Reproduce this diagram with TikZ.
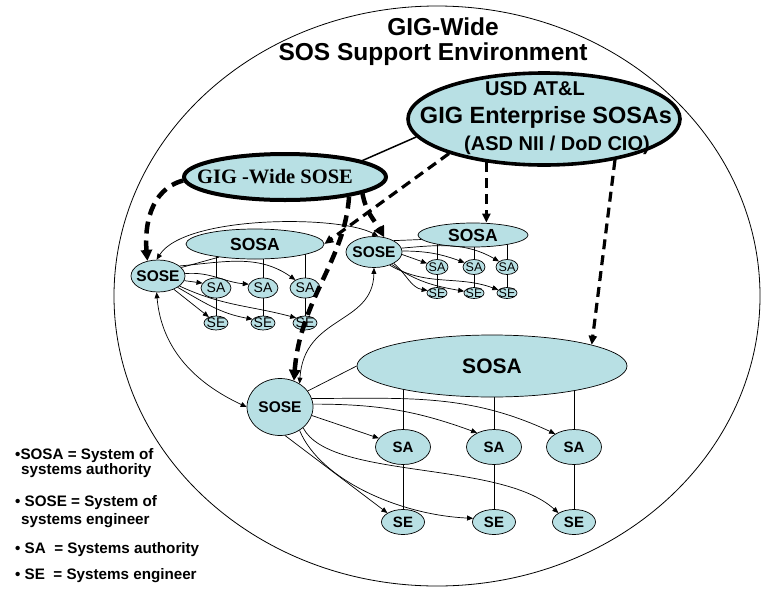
\documentclass[tikz,border=0pt]{standalone}
\usepackage{fontspec}
\setmainfont{Liberation Sans}
\newfontfamily\timesbold{Liberation Serif}
\usepackage{tikz}
\usetikzlibrary{positioning,arrows.meta,shapes.geometric,backgrounds}

\definecolor{sosfill}{RGB}{184,224,228}

\tikzset{
  blob/.style={ellipse, draw, fill=sosfill, inner sep=0pt, line width=0.7pt},
  boldblob/.style={blob, line width=3.6pt},
  link/.style={line width=0.7pt},
  flow/.style={link, -{Triangle[length=6pt,width=5pt]}},
  twoway/.style={link, {Triangle[length=6pt,width=5pt]}-{Triangle[length=6pt,width=5pt]}},
  heavydash/.style={line width=4.5pt, dash pattern=on 12pt off 7pt, -{Triangle[length=11pt,width=11pt]}},
  meddash/.style={line width=3.2pt, dash pattern=on 10pt off 6pt, -{Triangle[length=9pt,width=8pt]}},
  sosalbl/.style={font=\bfseries\fontsize{17.5}{18}\selectfont},
  bigsosalbl/.style={font=\bfseries\fontsize{21}{22}\selectfont},
  soselbl/.style={font=\bfseries\fontsize{15.5}{16}\selectfont},
  tinylbl/.style={font=\fontsize{14}{14}\selectfont},
  minilbl/.style={font=\fontsize{12.5}{13}\selectfont},
  unitlbl/.style={font=\bfseries\fontsize{15}{15}\selectfont},
  keytxt/.style={anchor=base west, inner sep=0pt, font=\bfseries\fontsize{15.2}{17}\selectfont},
}

\begin{document}
\begin{tikzpicture}[x=1pt, y=-1pt]
    \useasboundingbox (0,0) rectangle (761,590);

    % Environment
    \node[ellipse, draw, line width=0.8pt, inner sep=0pt, minimum width=646pt, minimum height=580pt] (env) at (437,296) {};
    \node[anchor=base, font=\bfseries\fontsize{24.5}{26}\selectfont] (title1) at (443,35) {GIG-Wide};
    \node[anchor=base, font=\bfseries\fontsize{24.5}{26}\selectfont] (title2) at (433,60) {SOS Support Environment};

    % Enterprise level
    \node[boldblob, minimum width=272pt, minimum height=92pt] (usd) at (544,119) {};
    \node[anchor=base, font=\bfseries\fontsize{20}{22}\selectfont] (usd1) at (535,95) {USD AT\&L};
    \node[anchor=base, font=\bfseries\fontsize{23.5}{25}\selectfont] (usd2) at (546,123) {GIG Enterprise SOSAs};
    \node[anchor=base, font=\bfseries\fontsize{20}{22}\selectfont] (usd3) at (557,150) {(ASD NII / DoD CIO)};

    \node[boldblob, line width=4pt, minimum width=202pt, minimum height=46pt] (gigsose) at (285,177) {};
    \node[anchor=base, font=\timesbold\bfseries\fontsize{20.5}{22}\selectfont] (gigtxt) at (275,183) {GIG -Wide SOSE};

    % Upper left group
    \node[blob, minimum width=138pt, minimum height=30pt, label={[sosalbl]center:SOSA}] (sosa1) at (255,244) {};
    \node[blob, minimum width=54pt, minimum height=32pt, label={[soselbl]center:SOSE}] (sose1) at (158,276) {};
    \foreach \i/\x in {1/216,2/263,3/305} {
        \node[blob, minimum width=30pt, minimum height=20pt, label={[tinylbl]center:SA}] (sa1\i) at (\x,288) {};
        \node[blob, minimum width=24pt, minimum height=14pt, label={[tinylbl]center:SE}] (se1\i) at (\x,323) {};
    }

    % Upper right group
    \node[blob, minimum width=110pt, minimum height=24pt, label={[sosalbl]center:SOSA}] (sosa2) at (473,235) {};
    \node[blob, minimum width=56pt, minimum height=31pt, label={[soselbl]center:SOSE}] (sose2) at (374,252) {};
    \foreach \i/\x in {1/437,2/474,3/507} {
        \node[blob, minimum width=22pt, minimum height=15pt, label={[minilbl]center:SA}] (sa2\i) at (\x,267) {};
        \node[blob, minimum width=20pt, minimum height=11pt, label={[minilbl]center:SE}] (se2\i) at (\x,293) {};
    }

    % Lower group
    \node[blob, minimum width=270pt, minimum height=62pt, label={[bigsosalbl]center:SOSA}] (sosa3) at (492,366) {};
    \node[blob, minimum width=66pt, minimum height=57pt, label={[soselbl]center:SOSE}] (sose3) at (280,407) {};
    \foreach \i/\x in {1/403,2/494,3/574} {
        \node[blob, minimum width=55pt, minimum height=35pt, label={[unitlbl]center:SA}] (sa3\i) at (\x,447) {};
        \node[blob, minimum width=43pt, minimum height=25pt, label={[unitlbl]center:SE}] (se3\i) at (\x,522) {};
    }

    % SOSA -- SA -- SE lines
    \begin{pgfonlayer}{background}
        \foreach \r in {1,2,3}
            \foreach \i in {1,2,3}
                \draw[link] (sosa\r.center -| sa\r\i) -- (se\r\i.center);
    \end{pgfonlayer}

    % SOSA -- SOSE
    \draw[link] (sose1.20) -- (sosa1.200);
    \draw[link] (sose2.30) -- (sosa2.185);
    \draw[link] (sose3.30) -- (sosa3.west);
    \draw[line width=1.5pt] (usd.188) -- (gigsose.12);

    % SOSE to SA and SE
    \draw[flow] (sose1.-10) -- (sa11.160);
    \draw[flow] (sose1.5) to[out=5,in=175] (sa12.165);
    \draw[flow] (sose1.25) to[out=5,in=145] (sa13.140);
    \draw[flow] (sose1.-40) -- (se11.140);
    \draw[flow] (sose1.-30) to[out=-30,in=170] (se12.160);
    \draw[flow] (sose1.-25) to[out=-25,in=165] (se13.150);

    \draw[flow] (sose2.-5) -- (sa21.160);
    \draw[flow] (sose2.2) to[out=0,in=160] (sa22.155);
    \draw[flow] (sose2.8) to[out=5,in=150] (sa23.145);
    \draw[flow] (sose2.-30) to[out=-40,in=170] (se21.165);
    \draw[flow] (sose2.-35) to[out=-35,in=170] (se22.170);
    \draw[flow] (sose2.-40) to[out=-30,in=160] (se23.160);

    \draw[flow] (sose3.-15) -- (sa31.160);
    \draw[flow] (sose3.5) to[out=0,in=160] (sa32.140);
    \draw[flow] (sose3.15) to[out=0,in=155] (sa33.145);
    \draw[flow] (sose3.-80) -- (se31.150);
    \draw[flow] (sose3.-50) .. controls (320,480) and (400,515) .. (se32.170);
    \draw[flow] (sose3.-42) .. controls (330,480) and (500,460) .. (se33.150);

    % SOSE to SOSE
    \draw[twoway] (sose1.95) .. controls (185,215) and (340,215) .. (sose2.75);
    \draw[twoway] (sose1.-95) to[out=-85,in=155] (sose3.west);
    \draw[twoway] (sose2.-90) .. controls (373,325) and (304,315) .. (sose3.50);

    % Enterprise direction
    \draw[heavydash] (gigsose.182) to[out=195,in=95] (sose1.125);
    \draw[heavydash] (gigsose.-12) to[out=-80,in=120] (sose2.55);
    \draw[heavydash] (gigsose.-17) .. controls (345,260) and (300,300) .. (sose3.62);
    \draw[meddash] (usd.200) -- (sosa1.east);
    \draw[meddash] (usd.217) -- (usd.217 |- sosa2.north);
    \draw[meddash] (usd.-30) -- (sosa3.12);

    % Key
    \node[keytxt] (key1) at (15,459) {•SOSA = System of};
    \node[keytxt] (key2) at (21,474) {systems authority};
    \node[keytxt] (key3) at (15,506) {• SOSE = System of};
    \node[keytxt] (key4) at (21,524) {systems engineer};
    \node[keytxt] (key5) at (15,553) {• SA\ \ = Systems authority};
    \node[keytxt] (key6) at (15,579) {• SE\ \ = Systems engineer};
\end{tikzpicture}
\end{document}
